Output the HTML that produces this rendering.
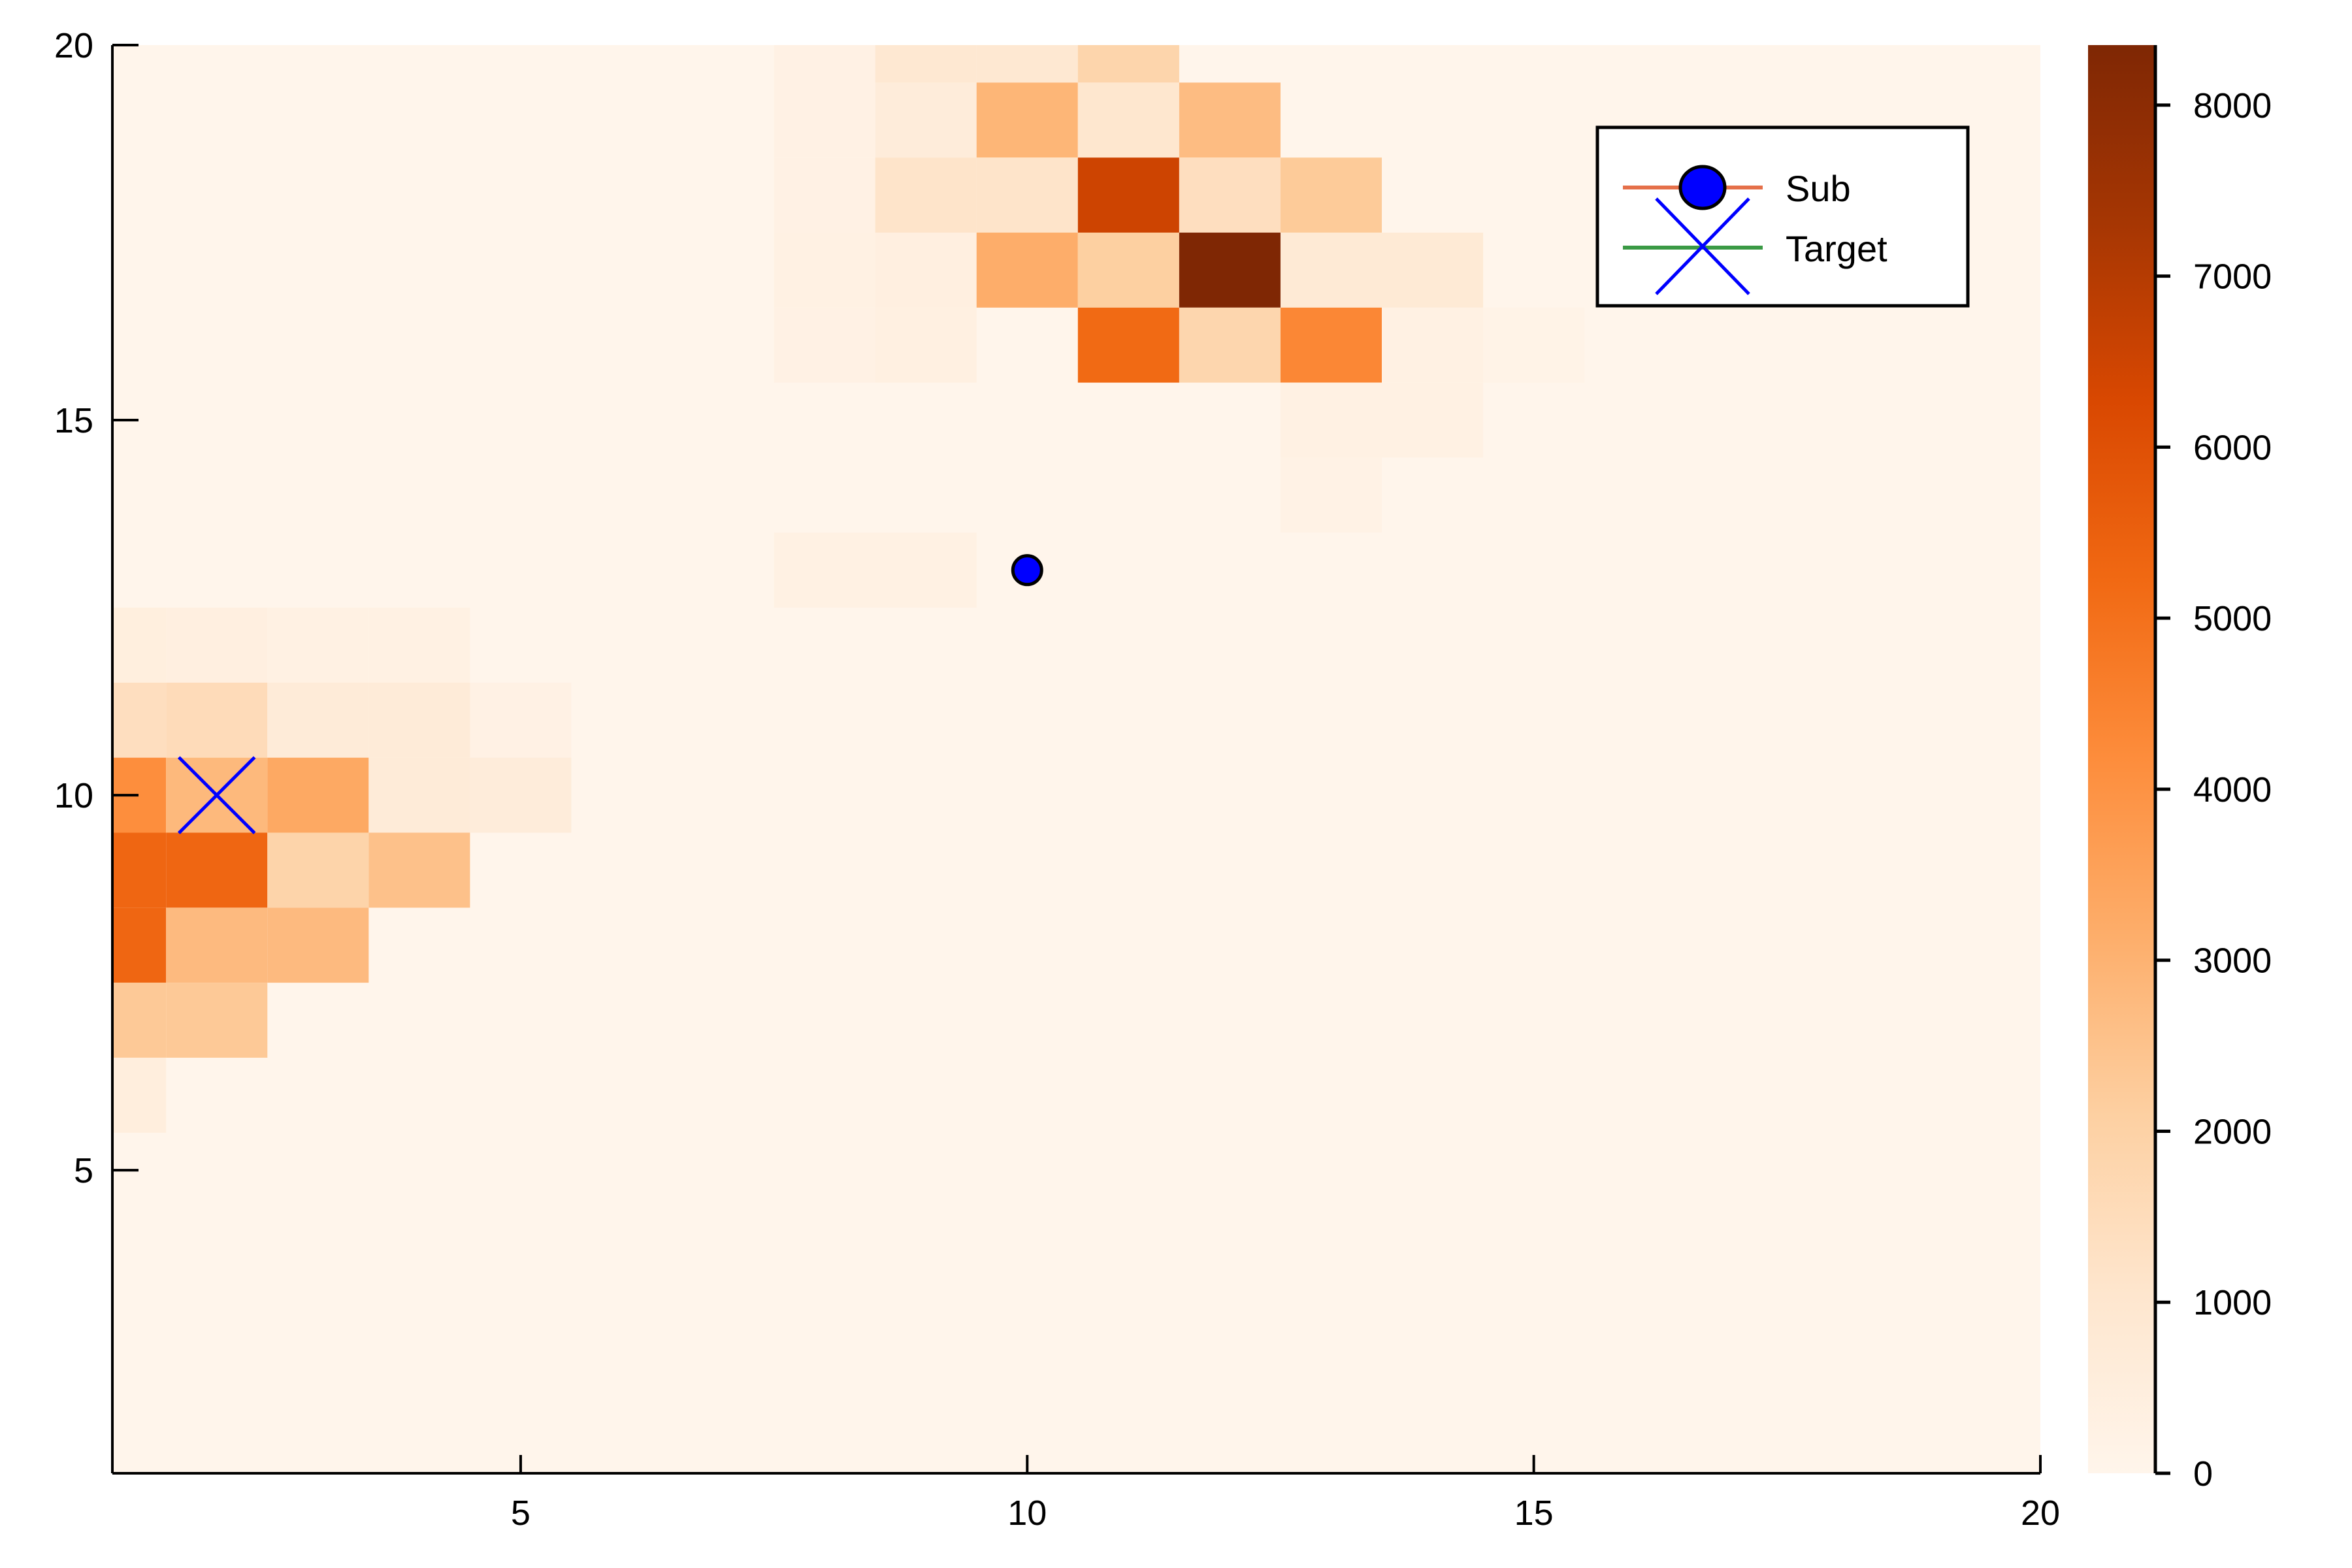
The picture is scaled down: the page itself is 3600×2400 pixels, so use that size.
<!DOCTYPE html>
<html><head><meta charset="utf-8"><style>
html,body{margin:0;padding:0;background:#fff;}
svg{display:block;font-family:"Liberation Sans","DejaVu Sans",sans-serif;}
</style></head><body>
<svg id="chart" width="3600" height="2400" viewBox="0 0 3600 2400" xmlns="http://www.w3.org/2000/svg">
<defs>
<clipPath id="plotclip"><rect x="172" y="69" width="2951" height="2186"/></clipPath>
<linearGradient id="cbgrad" x1="0" y1="1" x2="0" y2="0">
<stop offset="0" stop-color="#fff5eb"/><stop offset="0.125" stop-color="#fee6ce"/><stop offset="0.25" stop-color="#fdd0a2"/><stop offset="0.375" stop-color="#fdae6b"/><stop offset="0.5" stop-color="#fd8d3c"/><stop offset="0.625" stop-color="#f16913"/><stop offset="0.75" stop-color="#d94801"/><stop offset="0.875" stop-color="#a63603"/><stop offset="1" stop-color="#7f2704"/>
</linearGradient>
</defs>
<rect x="172" y="69" width="2951" height="2186" fill="#fff5eb"/>
<g id="cells" clip-path="url(#plotclip)"></g>
<g id="axes"></g>
<g id="markers"></g>
<g id="colorbar"></g>
<g>
<rect x="2445" y="195" width="567" height="273" fill="#fff" stroke="#000" stroke-width="5"/>
<line x1="2484" y1="287" x2="2698" y2="287" stroke="#e5704a" stroke-width="6"/>
<ellipse cx="2606" cy="287" rx="34" ry="32" fill="#0000ff" stroke="#000" stroke-width="5"/>
<text x="2733" y="308" font-size="56">Sub</text>
<line x1="2484" y1="379" x2="2698" y2="379" stroke="#3a9a45" stroke-width="6"/>
<line x1="2535" y1="304" x2="2677" y2="450" stroke="#0000ff" stroke-width="5"/>
<line x1="2677" y1="304" x2="2535" y2="450" stroke="#0000ff" stroke-width="5"/>
<text x="2733" y="400" font-size="56">Target</text>
</g>
</svg>
<script>
const cellX = [8,9,10,11, 8,9,10,11,12, 8,9,10,11,12,13, 8,9,10,11,12,13,14, 8,9,11,12,13,14,15, 13,14, 13, 8,9,
               1,2,3,4, 1,2,3,4,5, 1,2,3,4,5, 1,2,3,4, 1,2,3, 1,2, 1];
const cellY = [20,20,20,20, 19,19,19,19,19, 18,18,18,18,18,18, 17,17,17,17,17,17,17, 16,16,16,16,16,16,16, 15,15, 14, 13,13,
               12,12,12,12, 11,11,11,11,11, 10,10,10,10,10, 9,9,9,9, 8,8,8, 7,7, 6];
const cellValues = [250,900,900,1850, 250,600,2900,1000,2700, 250,1150,1150,6500,1400,2250, 300,400,3150,2100,8351,800,800, 250,350,5200,1800,4350,300,150, 300,300, 200, 300,300,
               450,400,300,300, 1400,1550,700,700,250, 4150,2800,3300,700,600, 5300,5300,1900,2550, 5300,2750,2750, 2300,2300, 500];
const xTicks = [5,10,15,20];
const yTicks = [5,10,15,20];
const cbTicks = [0,1000,2000,3000,4000,5000,6000,7000,8000];
const vMax = 8351;
const subPoint = [10,13];
const targetPoint = [2,10];

const NS='http://www.w3.org/2000/svg';
const PX0=172,PX1=3123,PY0=69,PY1=2255, XMIN=0.97,XMAX=20,YMIN=0.96,YMAX=20;
function sx(v){return PX0+(v-XMIN)/(XMAX-XMIN)*(PX1-PX0);}
function sy(v){return PY1-(v-YMIN)/(YMAX-YMIN)*(PY1-PY0);}
const CB0=2255,CB1=69;
function cy(v){return CB0-v/vMax*(CB0-CB1);}
const stops=[[255,245,235],[254,230,206],[253,208,162],[253,174,107],[253,141,60],[241,105,19],[217,72,1],[166,54,3],[127,39,4]];
function cmap(v){let t=Math.max(0,Math.min(1,v/vMax))*8;let i=Math.min(7,Math.floor(t));let f=t-i;
 const a=stops[i],b=stops[i+1];return 'rgb('+a.map((c,k)=>Math.round(c+(b[k]-c)*f)).join(',')+')';}
function mk(tag,attrs,parent){const e=document.createElementNS(NS,tag);for(const k in attrs)e.setAttribute(k,attrs[k]);parent.appendChild(e);return e;}

const gc=document.getElementById('cells');
for(let i=0;i<cellValues.length;i++){
 const x0=sx(cellX[i]-0.5),x1=sx(cellX[i]+0.5),y0=sy(cellY[i]+0.5),y1=sy(cellY[i]-0.5);
 const r=mk('rect',{x:x0,y:y0,width:x1-x0,height:y1-y0,fill:cmap(cellValues[i])},gc);
 
 
}
const ga=document.getElementById('axes');
mk('line',{x1:PX0,y1:PY0,x2:PX0,y2:PY1,stroke:'#000','stroke-width':4},ga);
mk('line',{x1:PX0,y1:PY1,x2:PX1,y2:PY1,stroke:'#000','stroke-width':4},ga);
for(const t of xTicks){
 mk('line',{x1:sx(t),y1:PY1,x2:sx(t),y2:PY1-28,stroke:'#000','stroke-width':4},ga);
 const tx=mk('text',{x:sx(t),y:2334,'font-size':54,'text-anchor':'middle'},ga);tx.textContent=t;
 
 
}
for(const t of yTicks){
 mk('line',{x1:PX0,y1:sy(t),x2:PX0+40,y2:sy(t),stroke:'#000','stroke-width':4},ga);
 const ty=mk('text',{x:143,y:sy(t)+19,'font-size':54,'text-anchor':'end'},ga);ty.textContent=t;
 
 
}
const gm=document.getElementById('markers');
const s=mk('circle',{cx:sx(subPoint[0]),cy:sy(subPoint[1]),r:22,fill:'#0000ff',stroke:'#000','stroke-width':5},gm);


const tX=sx(targetPoint[0]),tY=sy(targetPoint[1]);
const l1=mk('line',{x1:tX-58,y1:tY-58,x2:tX+58,y2:tY+58,stroke:'#0000ff','stroke-width':5},gm);


mk('line',{x1:tX+58,y1:tY-58,x2:tX-58,y2:tY+58,stroke:'#0000ff','stroke-width':5},gm);

const gb=document.getElementById('colorbar');
mk('rect',{x:3196,y:CB1,width:103,height:CB0-CB1,fill:'url(#cbgrad)'},gb);
mk('line',{x1:3299,y1:CB1,x2:3299,y2:CB0,stroke:'#000','stroke-width':5},gb);
for(const t of cbTicks){
 mk('line',{x1:3299,y1:cy(t),x2:3322,y2:cy(t),stroke:'#000','stroke-width':5},gb);
 const tl=mk('text',{x:3357,y:cy(t)+19,'font-size':54},gb);tl.textContent=t;
 
 
}
</script>
</body></html>
